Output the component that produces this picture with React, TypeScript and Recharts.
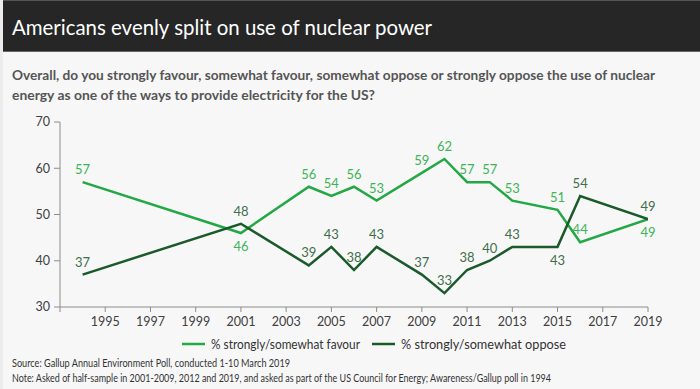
import React from 'react';
import { LineChart, Line, XAxis, YAxis, LabelList } from 'recharts';

const years = [1994, 2001, 2004, 2005, 2006, 2007, 2009, 2010, 2011, 2012, 2013, 2015, 2016, 2019];
const favour = [57, 46, 56, 54, 56, 53, 59, 62, 57, 57, 53, 51, 44, 49];
const oppose = [37, 48, 39, 43, 38, 43, 37, 33, 38, 40, 43, 43, 54, 49];
const xTicks = [1993, 1995, 1997, 1999, 2001, 2003, 2005, 2007, 2009, 2011, 2013, 2015, 2017, 2019];
const yTicks = [30, 40, 50, 60, 70];

const favourBelow = [2001, 2019];
const opposeBelow = [2015];

const data = years.map((y, i) => ({ year: y, favour: favour[i], oppose: oppose[i] }));

const FAV = '#22a845';
const OPP = '#1b5a2b';
const FAV_LBL = '#3db457';
const OPP_LBL = '#3f6e4b';
const FONT = 'Lato, "Open Sans", sans-serif';

const makeLabel = (below: number[], color: string) => (props: any) => {
  const { x, y, value, index } = props;
  const yr = years[index];
  const isBelow = below.includes(yr);
  return (
    <text
      x={x}
      y={isBelow ? y + 18 : y - 8}
      textAnchor="middle"
      fill={color}
      fontSize={13}
      fontFamily={FONT}
    >
      {value}
    </text>
  );
};

export default function App() {
  return (
    <div style={{ position: 'fixed', left: 0, top: 0, width: 700, height: 389, background: '#f7f7f7', overflow: 'hidden' }}>
      <div style={{ position: 'absolute', left: 0, top: 0, width: 3, height: 389, background: '#ececec' }} />
      <div style={{ position: 'absolute', left: 3, top: 0, width: 697, height: 52, background: '#262626', borderTop: '1px solid #555', borderBottom: '1px solid #666', boxSizing: 'border-box' }} />
      <div style={{ position: 'absolute', left: 0, top: 0 }}>
        <LineChart width={700} height={389} data={data} margin={{ top: 122, right: 52, bottom: 52, left: 0 }}>
          <XAxis
            dataKey="year"
            type="number"
            domain={[1993, 2019]}
            ticks={xTicks}
            tickFormatter={(v: number) => (v === 1993 ? '' : String(v))}
            stroke="#8c8c8c"
            tickSize={5}
            tickMargin={5}
            height={30}
            tick={{ fill: '#404040', fontSize: 12.5, fontFamily: FONT }}
            allowDataOverflow
          />
          <YAxis
            domain={[30, 70]}
            ticks={yTicks}
            width={60}
            stroke="#8c8c8c"
            tickSize={6}
            tickMargin={4}
            tick={{ fill: '#404040', fontSize: 12.5, fontFamily: FONT }}
          />
          <Line
            dataKey="favour"
            stroke={FAV}
            strokeWidth={2.5}
            dot={false}
            isAnimationActive={false}
            strokeLinejoin="miter"
          >
            <LabelList dataKey="favour" content={makeLabel(favourBelow, FAV_LBL)} />
          </Line>
          <Line
            dataKey="oppose"
            stroke={OPP}
            strokeWidth={2.5}
            dot={false}
            isAnimationActive={false}
            strokeLinejoin="miter"
          >
            <LabelList dataKey="oppose" content={makeLabel(opposeBelow, OPP_LBL)} />
          </Line>
        </LineChart>
      </div>
      <svg width={700} height={389} style={{ position: 'absolute', left: 0, top: 0, pointerEvents: 'none' }}>
        <text x={12} y={35} fill="#ffffff" fontSize={22} fontFamily={FONT} textLength={420} lengthAdjust="spacingAndGlyphs">
          Americans evenly split on use of nuclear power
        </text>
        <text x={12} y={80} fill="#555555" fontSize={14} fontWeight="bold" fontFamily={FONT} textLength={643} lengthAdjust="spacingAndGlyphs">
          Overall, do you strongly favour, somewhat favour, somewhat oppose or strongly oppose the use of nuclear
        </text>
        <text x={12} y={100} fill="#555555" fontSize={14} fontWeight="bold" fontFamily={FONT} textLength={363} lengthAdjust="spacingAndGlyphs">
          energy as one of the ways to provide electricity for the US?
        </text>
        <line x1={182} y1={344} x2={205} y2={344} stroke={FAV} strokeWidth={2.5} />
        <text x={211} y={348.5} fill="#333333" fontSize={13} fontFamily={FONT} textLength={149} lengthAdjust="spacingAndGlyphs">
          % strongly/somewhat favour
        </text>
        <line x1={372} y1={344} x2={395} y2={344} stroke={OPP} strokeWidth={2.5} />
        <text x={401} y={348.5} fill="#333333" fontSize={13} fontFamily={FONT} textLength={165} lengthAdjust="spacingAndGlyphs">
          % strongly/somewhat oppose
        </text>
        <text x={12} y={367} fill="#333333" fontSize={10.5} fontFamily={FONT} textLength={278} lengthAdjust="spacingAndGlyphs">
          Source: Gallup Annual Environment Poll, conducted 1-10 March 2019
        </text>
        <text x={12} y={382} fill="#333333" fontSize={10.5} fontFamily={FONT} textLength={539} lengthAdjust="spacingAndGlyphs">
          Note: Asked of half-sample in 2001-2009, 2012 and 2019, and asked as part of the US Council for Energy; Awareness/Gallup poll in 1994
        </text>
      </svg>
    </div>
  );
}
